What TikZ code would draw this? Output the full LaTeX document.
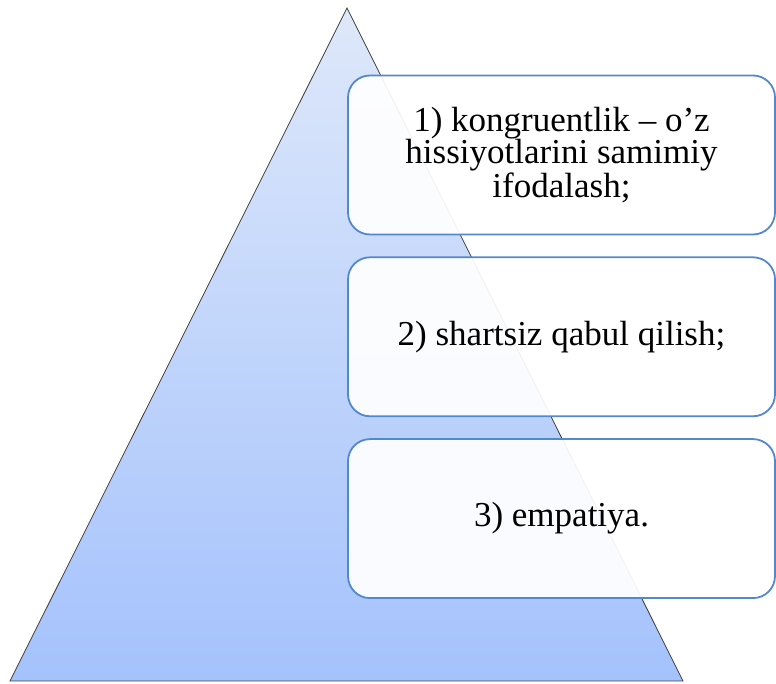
\documentclass[tikz,border=0pt]{standalone}
\usepackage{fontspec}
\setmainfont{Liberation Serif}
\usetikzlibrary{positioning}

\definecolor{pyrtop}{RGB}{222,232,250}
\definecolor{pyrbottom}{RGB}{164,194,252}
\definecolor{boxline}{RGB}{84,136,204}

\begin{document}
\begin{tikzpicture}[
        x=1pt, y=1pt,
        node distance=21pt,
        level/.style={rectangle, draw=boxline, line width=1.8pt, rounded corners=22pt,
            fill=white, fill opacity=0.93, text opacity=1,
            minimum width=427pt, minimum height=159pt, align=center,
            font=\fontsize{35}{32}\selectfont}
    ]
    \useasboundingbox (0,0) rectangle (776,684);

    % Pyramid
    \coordinate (baseL) at (10,3);
    \coordinate (baseR) at (683,3);
    \coordinate (apex) at (347,676);
    \shade[top color=pyrtop, bottom color=pyrbottom] (baseL) -- (baseR) -- (apex) -- cycle;
    \draw[black!75, line width=0.8pt] (baseL) -- (baseR) -- (apex) -- cycle;

    % Levels
    \node[level] (congruence) at (561.5,529) {1) kongruentlik -- o’z\\hissiyotlarini samimiy\\ifodalash;};
    \node[level, below=of congruence] (acceptance) {2) shartsiz qabul qilish;};
    \node[level, below=of acceptance] (empathy) {3) empatiya.};

\end{tikzpicture}
\end{document}
